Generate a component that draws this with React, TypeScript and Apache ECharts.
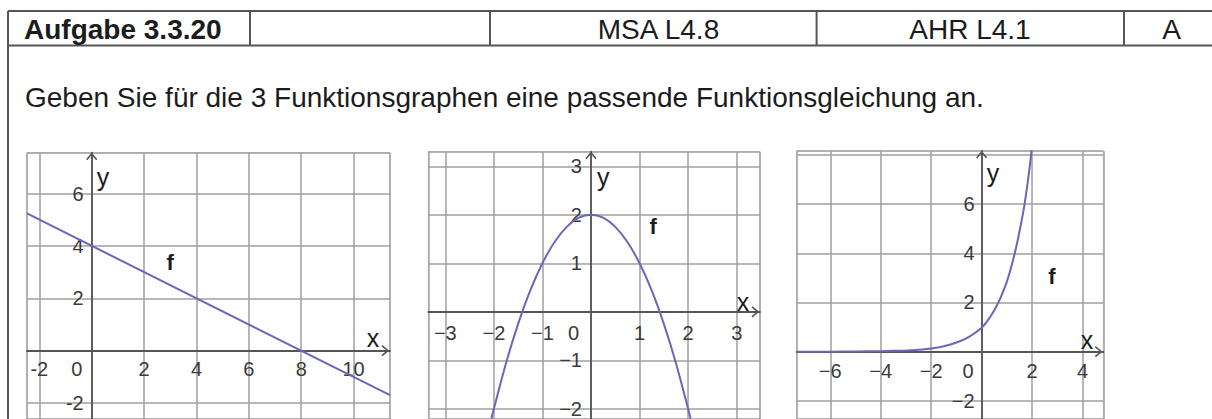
import React, { useEffect, useRef } from 'react';
import * as echarts from 'echarts';

// ---------- texts ----------
const headerCells = ['Aufgabe 3.3.20', '', 'MSA L4.8', 'AHR L4.1', 'A'];
const instruction = 'Geben Sie für die 3 Funktionsgraphen eine passende Funktionsgleichung an.';
const curveLabel = 'f';
const axisNames = ['x', 'y'];

// ---------- data ----------
// graph 1: straight line
const linX = [-2.47, 11.39];
const linY = [5.24, -1.7];
// graph 2: parabola
const parX = [-2.05, -2, -1.75, -1.5, -1.25, -1, -0.75, -0.5, -0.25, 0, 0.25, 0.5, 0.75, 1, 1.25, 1.5, 1.75, 2, 2.05];
const parY = [-2.2, -2, -1.06, -0.25, 0.44, 1, 1.44, 1.75, 1.94, 2, 1.94, 1.75, 1.44, 1, 0.44, -0.25, -1.06, -2, -2.2];
// graph 3: exponential
const expX = [-7.33, -6, -5, -4, -3, -2.5, -2, -1.5, -1, -0.5, 0, 0.25, 0.5, 0.75, 1, 1.2, 1.4, 1.55, 1.7, 1.82, 1.92, 2.0];
const expY = [0, 0, 0.01, 0.02, 0.05, 0.08, 0.13, 0.22, 0.37, 0.6, 0.97, 1.28, 1.68, 2.2, 2.85, 3.55, 4.4, 5.15, 6.0, 6.85, 7.65, 8.4];

// axis extents and tick steps
const xRanges = [[-2.47, 11.39], [-3.35, 3.48], [-7.33, 4.82]];
const yRanges = [[-2.61, 7.56], [-2.21, 3.3], [-2.74, 8.16]];
const tickSteps = [2, 1, 2];
const hiddenYTicks = [[0], [0], [0, 8]];
const minusSigns = ['-', '\u2212', '\u2212'];

// ---------- layout ----------
const gridBoxes = [
  [27, 152.7, 363, 266.3],
  [428.3, 151.7, 331.7, 267.3],
  [796.7, 151, 306.6, 268],
];
const zeroShift = [30, 35, 27];
const xLabelMargin = [8, 11, 9];
const yLabelMargin = [8, 9, 7];
const fPos = [[3, 3.35], [1.28, 1.75], [2.78, 3.04]];
const yNamePos = [[0.43, 6.63], [0.25, 2.78], [0.45, 7.26]];
const xNamePos = [[10.74, 0.49], [3.13, 0.2], [4.17, 0.48]];
const headerTop = 11;
const headerBottom = 45.5;
const frameLeft = 8;
const dividers = [250, 490, 816.6, 1124];
const headerTextX = [24, 0, 658.5, 970, 1171.7];

const FONT = '"Liberation Sans", Arial, sans-serif';
const CURVE = '#6b66b6';
const GRIDLINE = '#9f9f9f';
const AXIS = '#555';
const TEXT = '#1c1c1c';
const LABEL = '#3a3a3a';

const isMultiple = (v: number, s: number) => Math.abs(v / s - Math.round(v / s)) < 1e-6;

export default function App() {
  const ref = useRef<HTMLDivElement>(null);
  useEffect(() => {
    const chart = echarts.init(ref.current!, null, { renderer: 'svg' });

    const grid = gridBoxes.map((g) => ({
      left: g[0], top: g[1], width: g[2], height: g[3],
      show: true, borderColor: '#cfcfcf', borderWidth: 1,
      outerBoundsMode: 'none', containLabel: false,
    }));

    const xAxis = xRanges.map((r, i) => {
      const yr = yRanges[i];
      const zeroFromBottom = gridBoxes[i][3] * (0 - yr[0]) / (yr[1] - yr[0]);
      return {
        type: 'value', gridIndex: i, min: r[0], max: r[1], position: 'bottom', offset: -zeroFromBottom,
        minInterval: tickSteps[i], maxInterval: tickSteps[i], splitNumber: 8,
        axisLine: { onZero: false, lineStyle: { color: AXIS, width: 1.8 } },
        axisTick: { show: false },
        splitLine: { show: true, lineStyle: { color: GRIDLINE, width: 1.5 } },
        axisLabel: {
          interval: 0, margin: xLabelMargin[i], fontSize: 20, color: LABEL, fontFamily: FONT,
          showMinLabel: true, showMaxLabel: true, hideOverlap: false,
          formatter: (v: number) => {
            if (!isMultiple(v, tickSteps[i])) return '';
            const r2 = Math.round(v / tickSteps[i]) * tickSteps[i];
            if (r2 === 0) return '{z|0}';
            return String(r2).replace('-', minusSigns[i]);
          },
          rich: { z: { fontSize: 20, color: LABEL, fontFamily: FONT, padding: [0, zeroShift[i], 0, 0] } },
        },
      };
    });

    const yAxis = yRanges.map((r, i) => {
      const xr = xRanges[i];
      const zeroFromLeft = gridBoxes[i][2] * (0 - xr[0]) / (xr[1] - xr[0]);
      return {
        type: 'value', gridIndex: i, min: r[0], max: r[1], position: 'left', offset: -zeroFromLeft,
        minInterval: tickSteps[i], maxInterval: tickSteps[i], splitNumber: 6,
        axisLine: { onZero: false, lineStyle: { color: AXIS, width: 1.8 } },
        axisTick: { show: false },
        splitLine: { show: true, lineStyle: { color: GRIDLINE, width: 1.5 } },
        axisLabel: {
          interval: 0, margin: yLabelMargin[i], fontSize: 20, color: LABEL, fontFamily: FONT,
          padding: [6, 0, 0, 0], hideOverlap: false,
          formatter: (v: number) => {
            if (!isMultiple(v, tickSteps[i])) return '';
            const r2 = Math.round(v / tickSteps[i]) * tickSteps[i];
            if (hiddenYTicks[i].includes(r2)) return '';
            return String(r2).replace('-', minusSigns[i]);
          },
        },
      };
    });

    const zip = (xs: number[], ys: number[]) => xs.map((x, k) => [x, ys[k]]);
    const series = [
      { data: zip(linX, linY), smooth: false },
      { data: zip(parX, parY), smooth: 0.3 },
      { data: zip(expX, expY), smooth: 0.3 },
    ].map((s, i) => ({
      type: 'line', xAxisIndex: i, yAxisIndex: i, data: s.data, smooth: s.smooth,
      showSymbol: false, symbol: 'none', clip: true,
      lineStyle: { color: CURVE, width: 2 }, z: 5,
    }));

    chart.setOption({ animation: false, grid, xAxis, yAxis, series });

    const gfx: any[] = [];
    const lineStyle = { stroke: AXIS, lineWidth: 2 };
    gfx.push({ type: 'line', shape: { x1: frameLeft, y1: headerTop, x2: 1212, y2: headerTop }, style: lineStyle });
    gfx.push({ type: 'line', shape: { x1: frameLeft, y1: headerBottom, x2: 1212, y2: headerBottom }, style: lineStyle });
    gfx.push({ type: 'line', shape: { x1: frameLeft, y1: headerTop, x2: frameLeft, y2: 419 }, style: lineStyle });
    dividers.forEach((d) =>
      gfx.push({ type: 'line', shape: { x1: d, y1: headerTop, x2: d, y2: headerBottom }, style: lineStyle })
    );
    headerCells.forEach((t, k) => {
      if (!t) return;
      gfx.push({
        type: 'text', x: headerTextX[k], y: (headerTop + headerBottom) / 2 + 1,
        style: {
          text: t, font: `${k === 0 ? 'bold ' : ''}28px ${FONT}`, fill: TEXT,
          align: k === 0 ? 'left' : 'center', verticalAlign: 'middle',
        },
      });
    });
    gfx.push({
      type: 'text', x: 25, y: 97.5,
      style: { text: instruction, font: `28px ${FONT}`, fill: TEXT, align: 'left', verticalAlign: 'middle' },
    });

    for (let i = 0; i < 3; i++) {
      const gi = { gridIndex: i };
      const o = chart.convertToPixel(gi, [0, 0]) as number[];
      const xe = chart.convertToPixel(gi, [xRanges[i][1], 0]) as number[];
      const ye = chart.convertToPixel(gi, [0, yRanges[i][1]]) as number[];
      const tipX = xe[0] - 2;
      gfx.push({
        type: 'polyline', z: 10,
        shape: { points: [[tipX - 6, o[1] - 5], [tipX, o[1]], [tipX - 6, o[1] + 5]] },
        style: { stroke: AXIS, lineWidth: 1.6, fill: 'none' },
      });
      const tipY = ye[1] + 1;
      gfx.push({
        type: 'polyline', z: 10,
        shape: { points: [[o[0] - 5, tipY + 6], [o[0], tipY], [o[0] + 5, tipY + 6]] },
        style: { stroke: AXIS, lineWidth: 1.6, fill: 'none' },
      });
      const pf = chart.convertToPixel(gi, fPos[i]) as number[];
      const px = chart.convertToPixel(gi, xNamePos[i]) as number[];
      const py = chart.convertToPixel(gi, yNamePos[i]) as number[];
      gfx.push({ type: 'text', x: pf[0], y: pf[1], z: 10, style: { text: curveLabel, font: `bold 22px ${FONT}`, fill: TEXT, align: 'center', verticalAlign: 'middle' } });
      gfx.push({ type: 'text', x: px[0], y: px[1], z: 10, style: { text: axisNames[0], font: `25px ${FONT}`, fill: TEXT, align: 'center', verticalAlign: 'middle' } });
      gfx.push({ type: 'text', x: py[0], y: py[1], z: 10, style: { text: axisNames[1], font: `25px ${FONT}`, fill: TEXT, align: 'center', verticalAlign: 'middle' } });
    }

    chart.setOption({ graphic: gfx });
    return () => chart.dispose();
  }, []);

  return (
    <div
      ref={ref}
      style={{ position: 'fixed', left: 0, top: 0, width: 1212, height: 419, background: '#fff' }}
    />
  );
}
